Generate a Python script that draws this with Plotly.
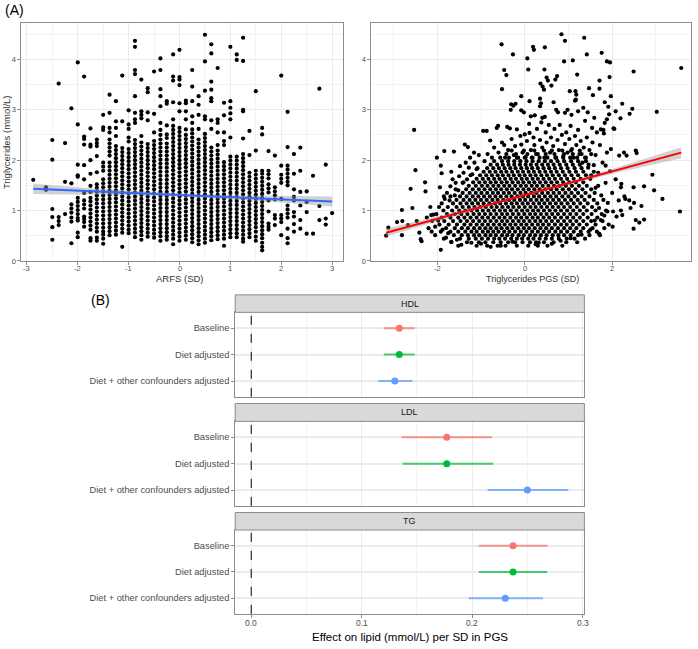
import plotly.graph_objects as go

# ---------------- panel A (left): triglycerides against ARFS ----------------
# ARFS is measured in steps of 0.125 SD, so points stack in columns
arfs_levels = [-2.875, -2.625, -2.5, -2.375, -2.25, -2.125, -2.0, -1.875, -1.75, -1.625,
               -1.5, -1.375, -1.25, -1.125, -1.0, -0.875, -0.75, -0.625, -0.5, -0.375,
               -0.25, -0.125, 0.0, 0.125, 0.25, 0.375, 0.5, 0.625, 0.75, 0.875,
               1.0, 1.125, 1.25, 1.375, 1.5, 1.625, 1.75, 1.875, 2.0, 2.125,
               2.25, 2.375, 2.5, 2.625, 2.75, 2.875, 3.0]
tg_by_arfs = [
    "1.61",
    "1.46 1.41",
    "2.40 2.01 1.03 0.87 0.67 0.42",
    "3.52 0.87 0.79 0.71",
    "2.34 1.57 0.93",
    "3.03 1.54 1.12 1.04 0.96 0.86 0.78 0.35",
    "3.94 2.71 1.91 1.70 1.67 1.25 1.17 1.09 1.01 0.93 0.85 0.80 0.56 0.47",
    "3.66 2.47 2.42 2.31 1.90 1.62 1.35 1.20 1.12 1.04 0.88 0.83 0.77 0.68",
    "2.63 2.31 2.27 2.00 1.73 1.49 1.37 1.25 1.18 1.10 1.02 0.94 0.86 0.78 0.70 0.62 0.45 0.40",
    "2.41 2.34 2.28 2.08 1.76 1.52 1.45 1.38 1.30 1.22 1.14 1.06 0.98 0.90 0.82 0.74 0.66 0.58 0.46 0.40",
    "2.90 2.65 2.60 1.95 1.87 1.79 1.62 1.54 1.46 1.38 1.30 1.22 1.14 1.06 0.98 0.90 0.82 0.74 0.66 0.58 0.52 0.44 0.34",
    "3.30 2.94 2.64 2.55 2.41 2.33 2.25 2.17 2.09 1.95 1.87 1.79 1.71 1.63 1.55 1.47 1.39 1.31 1.23 1.15 1.07 0.99 0.91 0.83 0.75 0.67 0.59 0.51",
    "3.17 2.77 2.64 2.48 2.28 2.20 2.12 2.04 1.96 1.88 1.80 1.72 1.64 1.56 1.48 1.40 1.32 1.24 1.16 1.08 1.00 0.92 0.84 0.76 0.68 0.60 0.52",
    "3.68 2.77 2.24 2.16 2.08 2.00 1.92 1.84 1.76 1.68 1.60 1.52 1.44 1.36 1.28 1.20 1.12 1.04 0.96 0.88 0.80 0.72 0.64 0.56 0.28",
    "2.99 2.71 2.62 2.45 2.37 2.22 2.14 2.06 1.98 1.90 1.82 1.74 1.66 1.58 1.50 1.42 1.34 1.26 1.18 1.10 1.02 0.94 0.86 0.78 0.70 0.62 0.55",
    "4.37 4.25 3.79 3.71 3.27 2.94 2.81 2.74 2.40 2.32 2.24 2.16 2.08 2.00 1.92 1.84 1.76 1.68 1.60 1.52 1.44 1.36 1.28 1.20 1.12 1.04 0.96 0.88 0.80 0.72 0.64 0.56 0.47",
    "3.60 2.97 2.90 2.83 2.48 2.35 2.27 2.19 2.11 2.03 1.95 1.87 1.79 1.71 1.63 1.55 1.47 1.39 1.31 1.23 1.15 1.07 0.99 0.91 0.83 0.75 0.67 0.59 0.51 0.42",
    "3.43 3.35 2.95 2.79 2.32 2.24 2.16 2.08 2.00 1.92 1.84 1.76 1.68 1.60 1.52 1.44 1.36 1.28 1.20 1.12 1.04 0.96 0.88 0.80 0.72 0.64 0.56 0.48",
    "3.76 2.92 2.55 2.38 2.30 2.22 2.14 2.06 1.98 1.90 1.82 1.74 1.66 1.58 1.50 1.42 1.34 1.26 1.18 1.10 1.02 0.94 0.86 0.78 0.70 0.62 0.54 0.46",
    "4.02 3.79 3.41 3.27 3.07 2.74 2.60 2.50 2.41 2.33 2.25 2.17 2.09 2.01 1.93 1.85 1.77 1.69 1.61 1.53 1.45 1.37 1.29 1.21 1.13 1.05 0.97 0.89 0.81 0.73 0.65 0.57 0.49 0.40",
    "3.17 3.12 2.69 2.51 2.44 2.33 2.25 2.17 2.09 2.01 1.93 1.85 1.77 1.69 1.61 1.53 1.45 1.37 1.29 1.21 1.13 1.05 0.97 0.89 0.81 0.73 0.65 0.57 0.49 0.42",
    "4.10 3.66 3.58 3.15 2.81 2.68 2.60 2.52 2.44 2.36 2.28 2.20 2.12 2.04 1.96 1.88 1.80 1.72 1.64 1.56 1.48 1.40 1.32 1.24 1.16 1.08 1.00 0.92 0.84 0.76 0.68 0.60 0.52 0.44 0.33",
    "4.19 3.65 3.60 3.49 3.13 2.97 2.64 2.56 2.48 2.40 2.32 2.24 2.16 2.08 2.00 1.92 1.84 1.76 1.68 1.60 1.52 1.44 1.36 1.28 1.20 1.12 1.04 0.96 0.88 0.80 0.72 0.64 0.56 0.48 0.40",
    "3.18 3.13 2.97 2.81 2.61 2.50 2.42 2.34 2.26 2.18 2.10 2.02 1.94 1.86 1.78 1.70 1.62 1.54 1.46 1.38 1.30 1.22 1.14 1.06 0.98 0.90 0.82 0.74 0.66 0.58 0.50 0.42",
    "3.79 3.46 3.17 2.87 2.74 2.61 2.53 2.45 2.37 2.29 2.21 2.13 2.05 1.97 1.89 1.81 1.73 1.65 1.57 1.49 1.41 1.33 1.25 1.17 1.09 1.01 0.93 0.85 0.77 0.69 0.61 0.53 0.45 0.37",
    "3.27 3.10 2.90 2.62 2.41 2.33 2.25 2.17 2.09 2.01 1.93 1.85 1.77 1.69 1.61 1.53 1.45 1.37 1.29 1.21 1.13 1.05 0.97 0.89 0.81 0.73 0.65 0.57 0.49 0.41 0.33",
    "4.49 3.96 3.38 2.87 2.81 2.52 2.44 2.36 2.28 2.20 2.12 2.04 1.96 1.88 1.80 1.72 1.64 1.56 1.48 1.40 1.32 1.24 1.16 1.08 1.00 0.92 0.84 0.76 0.68 0.60 0.52 0.44 0.36",
    "4.30 4.12 3.56 3.40 3.23 3.17 2.79 2.62 2.25 2.17 2.09 2.01 1.93 1.85 1.77 1.69 1.61 1.53 1.45 1.37 1.29 1.21 1.13 1.05 0.97 0.89 0.81 0.73 0.65 0.57 0.49 0.41",
    "3.83 2.81 2.74 2.55 2.30 2.19 2.11 2.03 1.95 1.87 1.79 1.71 1.63 1.55 1.47 1.39 1.31 1.23 1.15 1.07 0.99 0.91 0.83 0.75 0.67 0.59 0.51 0.43",
    "3.14 2.89 2.55 2.38 2.30 1.96 1.88 1.80 1.72 1.64 1.56 1.48 1.40 1.32 1.24 1.16 1.08 1.00 0.92 0.84 0.76 0.68 0.60 0.52 0.44 0.30",
    "4.25 3.17 3.04 2.93 2.81 2.45 2.07 1.99 1.91 1.83 1.75 1.67 1.59 1.51 1.43 1.35 1.27 1.19 1.11 1.03 0.95 0.87 0.79 0.71 0.63 0.55 0.47",
    "4.10 3.99 2.07 1.99 1.91 1.83 1.75 1.67 1.59 1.51 1.43 1.35 1.27 1.19 1.11 1.03 0.95 0.87 0.79 0.71 0.63 0.55 0.47",
    "4.43 3.97 3.00 2.97 2.43 2.12 2.04 1.96 1.88 1.80 1.72 1.64 1.56 1.48 1.40 1.32 1.24 1.16 1.08 1.00 0.92 0.84 0.76 0.68 0.60 0.52 0.44 0.38",
    "2.58 2.10 1.75 1.67 1.59 1.51 1.43 1.35 1.27 1.19 1.11 1.03 0.95 0.87 0.79 0.71 0.63 0.55 0.47",
    "3.37 2.19 1.79 1.71 1.63 1.55 1.47 1.39 1.31 1.23 1.15 1.07 0.99 0.91 0.83 0.75 0.67 0.58 0.48 0.40",
    "2.64 2.51 1.79 1.73 1.65 1.57 1.49 1.41 1.33 1.25 1.17 1.09 1.01 0.93 0.85 0.77 0.69 0.61 0.53 0.45 0.36 0.28 0.21",
    "2.18 1.79 1.72 1.64 1.52 1.44 1.36 1.20 0.98 0.74 0.68 0.62",
    "2.09 1.46 1.38 1.30 1.22 0.91 0.84 0.71",
    "3.68 1.89 1.71 1.63 1.55 1.23 0.91 0.84 0.77 0.51",
    "2.96 2.26 1.89 1.81 1.73 1.65 1.57 1.50 1.10 1.02 0.94 0.86 0.64 0.45 0.35",
    "2.12 1.73 1.42 1.27 1.20 0.97 0.88 0.73 0.58",
    "2.25 1.79 1.37 1.10 0.81 0.64",
    "1.38 1.17 0.97 0.54",
    "1.69 0.54",
    "3.42 1.09 0.81",
    "1.91 0.84 0.72",
    "0.95",
]
# linear fit and its confidence band
arfs_fit_x = [-2.875, 3.0]
arfs_fit_y = [1.43, 1.18]
arfs_band_x = [-2.875, -2.0, -1.0, 0.0, 0.3, 1.0, 2.0, 3.0]
arfs_band_lo = [1.33, 1.32, 1.305, 1.277, 1.264, 1.224, 1.157, 1.08]
arfs_band_hi = [1.53, 1.46, 1.395, 1.337, 1.324, 1.304, 1.287, 1.28]

# ---------------- panel A (right): triglycerides against TG PGS ----------------
# dense middle of the cloud, one string of PGS values per TG row
pgs_core_tg = [0.30, 0.37, 0.44, 0.51, 0.58, 0.65, 0.72, 0.79, 0.86, 0.93,
               1.00, 1.07, 1.14, 1.21, 1.28, 1.35, 1.42, 1.49, 1.56, 1.63,
               1.70, 1.77, 1.84, 1.91, 1.98, 2.05, 2.12, 2.19]
pgs_core = [
    "-1.52 -1.10 -0.86 -0.62 -0.44 -0.18 0.08 0.30 0.52 0.86",
    "-1.68 -1.32 -1.05 -0.90 -0.72 -0.55 -0.38 -0.22 -0.05 0.12 0.26 0.44 0.66 0.95 1.20",
    "-1.85 -1.48 -1.28 -1.12 -0.98 -0.84 -0.70 -0.58 -0.45 -0.31 -0.18 -0.06 0.08 0.20 0.34 0.48 0.62 0.78 0.96 1.14 1.38",
    "-2.05 -1.62 -1.44 -1.30 -1.16 -1.04 -0.90 -0.78 -0.66 -0.52 -0.40 -0.28 -0.14 -0.02 0.12 0.24 0.37 0.50 0.64 0.77 0.90 1.05 1.22 1.48 1.72",
    "-1.92 -1.70 -1.52 -1.36 -1.22 -1.10 -0.96 -0.84 -0.72 -0.60 -0.47 -0.35 -0.22 -0.09 0.04 0.17 0.30 0.43 0.56 0.70 0.83 0.97 1.12 1.28 1.46 1.65",
    "-2.20 -1.80 -1.60 -1.44 -1.30 -1.16 -1.03 -0.90 -0.78 -0.65 -0.53 -0.40 -0.28 -0.15 -0.02 0.10 0.23 0.36 0.49 0.62 0.76 0.90 1.04 1.18 1.34 1.55 1.82",
    "-1.95 -1.74 -1.55 -1.38 -1.24 -1.10 -0.97 -0.84 -0.71 -0.58 -0.46 -0.33 -0.21 -0.08 0.04 0.17 0.30 0.42 0.55 0.69 0.83 0.96 1.10 1.25 1.42 1.62",
    "-2.12 -1.84 -1.64 -1.47 -1.32 -1.18 -1.04 -0.91 -0.78 -0.65 -0.52 -0.40 -0.27 -0.14 -0.02 0.11 0.24 0.36 0.49 0.62 0.76 0.90 1.04 1.18 1.34 1.52 1.78",
    "-1.90 -1.70 -1.52 -1.38 -1.24 -1.10 -0.97 -0.84 -0.71 -0.58 -0.46 -0.33 -0.20 -0.08 0.05 0.18 0.30 0.43 0.56 0.69 0.83 0.97 1.11 1.26 1.44 1.66",
    "-2.02 -1.78 -1.60 -1.45 -1.31 -1.17 -1.04 -0.91 -0.78 -0.65 -0.52 -0.40 -0.27 -0.14 -0.01 0.12 0.24 0.37 0.50 0.63 0.76 0.90 1.04 1.18 1.34 1.53 1.76",
    "-1.86 -1.66 -1.50 -1.36 -1.22 -1.09 -0.96 -0.83 -0.70 -0.57 -0.45 -0.32 -0.19 -0.06 0.06 0.19 0.31 0.44 0.57 0.70 0.83 0.97 1.11 1.26 1.42 1.62 1.86",
    "-1.76 -1.56 -1.42 -1.28 -1.15 -1.02 -0.89 -0.76 -0.64 -0.51 -0.38 -0.26 -0.13 0.00 0.13 0.25 0.38 0.51 0.64 0.77 0.90 1.04 1.19 1.35 1.54",
    "-1.90 -1.64 -1.47 -1.33 -1.20 -1.07 -0.94 -0.81 -0.68 -0.56 -0.43 -0.30 -0.18 -0.05 0.07 0.20 0.33 0.45 0.58 0.71 0.84 0.98 1.12 1.27 1.44 1.66",
    "-1.56 -1.40 -1.26 -1.13 -1.00 -0.87 -0.74 -0.62 -0.49 -0.36 -0.24 -0.11 0.01 0.14 0.27 0.39 0.52 0.65 0.78 0.92 1.06 1.21 1.37 1.58 1.80",
    "-1.70 -1.48 -1.33 -1.19 -1.06 -0.93 -0.80 -0.67 -0.55 -0.42 -0.30 -0.17 -0.04 0.08 0.21 0.33 0.46 0.59 0.72 0.86 1.00 1.14 1.30 1.48",
    "-1.42 -1.26 -1.12 -0.99 -0.86 -0.73 -0.61 -0.48 -0.36 -0.23 -0.10 0.02 0.15 0.27 0.40 0.53 0.66 0.79 0.93 1.07 1.22 1.39 1.60",
    "-1.58 -1.34 -1.19 -1.05 -0.92 -0.79 -0.66 -0.54 -0.41 -0.29 -0.16 -0.03 0.09 0.22 0.34 0.47 0.60 0.73 0.87 1.01 1.16 1.32 1.52",
    "-1.28 -1.12 -0.98 -0.85 -0.72 -0.60 -0.47 -0.35 -0.22 -0.09 0.03 0.16 0.28 0.41 0.54 0.67 0.80 0.94 1.08 1.24 1.42 1.68",
    "-1.40 -1.18 -1.04 -0.91 -0.78 -0.66 -0.53 -0.41 -0.28 -0.15 -0.03 0.10 0.22 0.35 0.48 0.61 0.74 0.88 1.02 1.17 1.34",
    "-1.10 -0.96 -0.83 -0.70 -0.58 -0.45 -0.32 -0.20 -0.07 0.05 0.18 0.30 0.43 0.56 0.69 0.83 0.97 1.12 1.28 1.50",
    "-1.24 -1.02 -0.88 -0.75 -0.62 -0.50 -0.37 -0.25 -0.12 0.00 0.13 0.25 0.38 0.51 0.64 0.78 0.92 1.07 1.22 1.40",
    "-0.94 -0.80 -0.67 -0.54 -0.42 -0.29 -0.16 -0.04 0.09 0.21 0.34 0.47 0.60 0.73 0.87 1.02 1.17 1.34 1.58",
    "-1.08 -0.86 -0.72 -0.59 -0.46 -0.33 -0.21 -0.08 0.05 0.17 0.30 0.43 0.56 0.69 0.83 0.98 1.14 1.30",
    "-0.78 -0.63 -0.50 -0.37 -0.24 -0.11 0.02 0.14 0.27 0.40 0.53 0.66 0.80 0.95 1.10 1.26 1.46",
    "-0.70 -0.52 -0.38 -0.24 -0.10 0.04 0.18 0.32 0.46 0.60 0.75 0.90 1.06 1.22 1.40",
    "-0.56 -0.36 -0.18 0.00 0.16 0.34 0.52 0.70 0.88 1.04 1.20 1.38",
    "-0.42 -0.20 0.06 0.26 0.48 0.68 0.90 1.10 1.30 1.52",
    "-0.30 -0.02 0.22 0.44 0.62 0.86 1.06 1.26",
]
# scattered points around the core (PGS, TG)
pgs_outer = [
    (0.84, 4.50), (1.36, 4.43), (-0.53, 4.30), (0.92, 4.37), (-0.27, 4.10), (0.19, 4.25), (0.21, 4.19),
    (0.46, 4.24), (1.42, 4.10), (1.76, 4.13), (1.88, 3.96), (1.95, 3.94), (0.06, 4.02), (1.10, 3.98),
    (0.90, 3.96), (-0.47, 3.79), (-0.42, 3.69), (0.08, 3.80), (0.45, 3.80), (2.49, 3.76), (3.58, 3.83),
    (-0.52, 3.41), (0.36, 3.52), (0.41, 3.46), (0.44, 3.40), (0.50, 3.64), (0.53, 3.58), (0.61, 3.48),
    (0.74, 3.67), (0.70, 3.60), (1.20, 3.70), (1.03, 3.37), (1.16, 3.37), (1.18, 3.30), (1.47, 3.43),
    (1.56, 3.29), (1.71, 3.58), (1.71, 3.42), (1.94, 3.65), (1.97, 3.27), (1.83, 3.15), (1.91, 3.06),
    (2.23, 3.12), (2.46, 3.02), (2.40, 2.92), (2.08, 2.97), (1.93, 2.91), (1.88, 2.81), (1.83, 2.74),
    (2.19, 2.83), (3.02, 2.96), (2.03, 2.63), (1.74, 2.61), (1.81, 2.53), (1.54, 2.64),
    (-0.08, 3.27), (-0.31, 3.11), (-0.26, 3.08), (-0.21, 3.12), (-0.32, 3.00), (-0.08, 2.99),
    (-0.02, 2.95), (0.11, 3.17), (0.35, 3.22), (0.37, 3.13), (0.35, 3.07), (0.23, 2.89), (0.14, 2.87),
    (0.40, 2.84), (0.46, 2.86), (0.66, 3.15), (0.72, 3.00), (0.76, 2.95), (0.92, 2.94), (0.98, 3.00),
    (1.07, 2.90), (1.15, 3.18), (1.17, 3.20), (1.22, 2.97), (1.34, 3.04), (1.44, 2.95), (1.59, 2.84),
    (0.11, 2.54),
    # left wing
    (-3.17, 0.50), (-3.12, 0.66), (-2.92, 0.77), (-2.81, 1.01), (-2.81, 0.51), (-2.80, 0.79),
    (-2.67, 0.71), (-2.61, 1.43), (-2.57, 1.05), (-2.53, 2.60), (-2.50, 1.80), (-2.47, 0.79),
    (-2.41, 0.56), (-2.38, 0.43), (-2.36, 0.39), (-2.28, 1.56), (-2.27, 1.38), (-2.24, 0.86),
    (-2.16, 1.07), (-2.14, 0.91), (-2.13, 0.58), (-2.09, 0.92), (-2.05, 0.68), (-2.01, 2.05),
    (-1.98, 0.80), (-1.96, 1.07), (-1.94, 1.46), (-1.92, 1.89), (-1.92, 0.22), (-1.90, 1.74),
    (-1.88, 0.62), (-1.85, 1.28), (-1.84, 2.18), (-1.83, 1.23), (-1.80, 0.46), (-1.78, 1.35),
    (-1.75, 0.55), (-1.72, 1.20), (-1.70, 1.48), (-1.68, 1.77), (-1.68, 0.38), (-1.65, 1.62),
    (-1.62, 2.17), (-1.60, 1.30), (-1.58, 1.55), (-1.55, 0.42), (-1.52, 1.40), (-1.50, 1.68),
    (-1.48, 1.88), (-1.45, 0.32), (-1.42, 1.55), (-1.40, 1.75), (-1.37, 2.31), (-1.35, 1.95),
    (-1.32, 1.62), (-1.30, 2.26), (-1.28, 1.85), (-1.25, 2.05), (-1.22, 0.36), (-1.20, 1.72),
    (-1.16, 2.15), (-1.15, 1.95), (-1.10, 1.82), (-1.05, 2.10), (-1.00, 0.34),
    # upper band
    (-0.95, 2.58), (-0.92, 1.98), (-0.87, 2.58), (-0.85, 2.12), (-0.79, 2.39), (-0.78, 0.28),
    (-0.75, 2.05), (-0.70, 2.25), (-0.64, 2.64), (-0.61, 2.68), (-0.60, 2.15), (-0.55, 0.30),
    (-0.52, 2.35), (-0.47, 2.30), (-0.45, 2.05), (-0.40, 2.66), (-0.38, 2.20), (-0.34, 2.63),
    (-0.30, 2.42), (-0.28, 0.38), (-0.25, 2.10), (-0.22, 2.28), (-0.18, 2.61), (-0.15, 2.05),
    (-0.10, 2.48), (-0.08, 2.31), (-0.05, 2.15), (0.00, 2.51), (0.02, 2.06), (0.05, 2.38),
    (0.10, 2.72), (0.14, 2.20), (0.18, 2.05), (0.20, 2.45), (0.22, 2.30), (0.25, 0.33),
    (0.28, 2.62), (0.30, 2.12), (0.32, 0.36), (0.35, 2.40), (0.38, 2.75), (0.40, 2.25),
    (0.45, 2.05), (0.48, 2.55), (0.50, 2.35), (0.55, 2.70), (0.58, 2.15), (0.60, 2.45),
    (0.62, 0.34), (0.65, 2.28), (0.68, 2.62), (0.72, 2.05), (0.75, 2.40), (0.78, 2.20),
    (0.80, 2.70), (0.82, 0.40), (0.85, 2.50), (0.88, 2.08), (0.92, 2.32), (0.95, 2.55),
    (0.98, 2.15), (1.02, 2.42), (1.05, 0.45), (1.05, 2.68), (1.08, 2.22), (1.12, 2.05),
    (1.15, 2.48), (1.18, 2.30), (1.22, 2.60), (1.25, 2.12), (1.28, 2.38), (1.30, 0.52),
    (1.32, 1.95), (1.35, 2.25), (1.38, 2.78), (1.40, 2.05), (1.42, 2.45), (1.45, 1.85),
    (1.48, 2.20), (1.50, 0.62), (1.52, 1.70), (1.55, 2.35), (1.58, 1.90), (1.60, 0.80),
    # right wing
    (1.62, 2.10), (1.62, 1.45), (1.65, 2.55), (1.68, 1.75), (1.70, 1.05), (1.70, 0.54),
    (1.72, 2.30), (1.74, 0.81), (1.75, 1.30), (1.78, 1.95), (1.80, 2.60), (1.82, 0.90),
    (1.85, 1.55), (1.85, 1.89), (1.88, 2.15), (1.89, 0.98), (1.90, 1.15), (1.92, 0.72),
    (1.95, 1.78), (1.97, 2.22), (2.00, 1.35), (2.01, 0.68), (2.02, 0.98), (2.05, 2.62),
    (2.08, 1.62), (2.10, 0.88), (2.16, 2.09), (2.15, 1.20), (2.20, 1.46), (2.20, 1.00),
    (2.21, 1.53), (2.23, 0.91), (2.27, 2.15), (2.28, 1.28), (2.30, 1.23), (2.33, 2.09),
    (2.39, 1.20), (2.42, 1.05), (2.49, 1.46), (2.49, 0.64), (2.50, 1.15), (2.54, 2.19),
    (2.54, 0.81), (2.56, 2.14), (2.62, 0.76), (2.67, 1.09), (2.73, 1.48), (2.73, 0.82),
    (2.92, 1.71), (2.96, 1.40), (3.15, 1.23), (3.55, 0.98),
]
pgs_fit_x = [-3.17, 3.58]
pgs_fit_y = [0.56, 2.15]
pgs_band_x = [-3.17, -2.0, -1.0, 0.0, 0.3, 1.0, 2.0, 3.58]
pgs_band_lo = [0.48, 0.785, 1.04, 1.283, 1.354, 1.51, 1.725, 2.036]
pgs_band_hi = [0.64, 0.885, 1.10, 1.327, 1.398, 1.57, 1.825, 2.256]

# ---------------- panel B: effect per SD in PGS ----------------
models = ["Baseline", "Diet adjusted", "Diet + other confounders adjusted"]
model_colors = ["#F8766D", "#00BA38", "#619CFF"]
model_lines = ["rgba(248,118,109,0.75)", "rgba(0,186,56,0.7)", "rgba(97,156,255,0.75)"]
lipids = ["HDL", "LDL", "TG"]
effect = {"HDL": [0.134, 0.134, 0.130], "LDL": [0.177, 0.177, 0.250], "TG": [0.237, 0.237, 0.230]}
ci_low = {"HDL": [0.120, 0.120, 0.115], "LDL": [0.136, 0.137, 0.214], "TG": [0.206, 0.206, 0.197]}
ci_high = {"HDL": [0.148, 0.148, 0.146], "LDL": [0.218, 0.219, 0.287], "TG": [0.268, 0.268, 0.264]}

arfs_ticks = [-3, -2, -1, 0, 1, 2, 3]
pgs_ticks = [-2, 0, 2]
effect_ticks = [0.0, 0.1, 0.2, 0.3]

FONT = "Liberation Sans, Arial, sans-serif"
TICK = "#4D4D4D"
GRID = "#EBEBEB"
FRAME = "#8C8C8C"
W, H = 698, 649

fig = go.Figure()

# unpack scatter data
arfs_x, arfs_tg = [], []
for lev, vals in zip(arfs_levels, tg_by_arfs):
    for v in vals.split():
        arfs_x.append(lev)
        arfs_tg.append(float(v))

pgs_x, pgs_tg = [], []
for row_tg, row in zip(pgs_core_tg, pgs_core):
    for v in row.split():
        pgs_x.append(float(v))
        pgs_tg.append(row_tg)
for px_, py_ in pgs_outer:
    pgs_x.append(px_)
    pgs_tg.append(py_)


def add_scatter_panel(x, y, bx, blo, bhi, fx, fy, line_col, xa, ya):
    fig.add_trace(go.Scatter(x=x, y=y, mode="markers", xaxis=xa, yaxis=ya,
                             marker=dict(color="black", size=4.2), showlegend=False))
    fig.add_trace(go.Scatter(x=bx, y=bhi, mode="lines", line=dict(width=0),
                             xaxis=xa, yaxis=ya, showlegend=False))
    fig.add_trace(go.Scatter(x=bx, y=blo, mode="lines", line=dict(width=0, shape="spline"),
                             fill="tonexty", fillcolor="rgba(153,153,153,0.45)",
                             xaxis=xa, yaxis=ya, showlegend=False))
    fig.add_trace(go.Scatter(x=fx, y=fy, mode="lines", line=dict(color=line_col, width=2),
                             xaxis=xa, yaxis=ya, showlegend=False))


add_scatter_panel(arfs_x, arfs_tg, arfs_band_x, arfs_band_lo, arfs_band_hi,
                  arfs_fit_x, arfs_fit_y, "#3366FF", "x", "y")
add_scatter_panel(pgs_x, pgs_tg, pgs_band_x, pgs_band_lo, pgs_band_hi,
                  pgs_fit_x, pgs_fit_y, "#FF0000", "x2", "y2")

# forest facets
for i, lip in enumerate(lipids):
    xa, ya = f"x{i + 3}", f"y{i + 3}"
    for m, mod in enumerate(models):
        est = effect[lip][m]
        fig.add_trace(go.Scatter(
            x=[est], y=[mod], mode="markers", xaxis=xa, yaxis=ya,
            marker=dict(color=model_colors[m], size=7),
            error_x=dict(type="data", symmetric=False,
                         array=[ci_high[lip][m] - est], arrayminus=[est - ci_low[lip][m]],
                         color=model_lines[m], thickness=2, width=0),
            showlegend=False))

scatter_y = [1 - 263 / H, 1 - 23.3 / H]
ax_common = dict(showline=True, mirror=True, linecolor=FRAME, linewidth=1,
                 ticks="outside", ticklen=3, tickcolor=FRAME,
                 tickfont=dict(family=FONT, size=7.5, color=TICK),
                 showgrid=True, gridcolor=GRID, gridwidth=1, zeroline=False)
minor_y = dict(tickvals=[0.5, 1.5, 2.5, 3.5, 4.5], showgrid=True, gridcolor="#F3F3F3", gridwidth=0.6)

layout = dict(
    width=W, height=H, margin=dict(l=0, r=0, t=0, b=0),
    plot_bgcolor="white", paper_bgcolor="white",
    font=dict(family=FONT, color="#333333"),
    xaxis=dict(domain=[21.3 / W, 343.3 / W], anchor="y", range=[-3.11, 3.22],
               tickvals=arfs_ticks, showticklabels=False,
               minor=dict(tickvals=[-2.5, -1.5, -0.5, 0.5, 1.5, 2.5], showgrid=True,
                          gridcolor="#F3F3F3", gridwidth=0.6), **ax_common),
    yaxis=dict(domain=scatter_y, anchor="x", range=[-0.01, 4.72],
               tickvals=[0, 1, 2, 3, 4], minor=minor_y, **ax_common),
    xaxis2=dict(domain=[371.3 / W, 691.3 / W], anchor="y2", range=[-3.51, 3.81],
                tickvals=pgs_ticks, showticklabels=False,
                minor=dict(tickvals=[-3, -1, 1, 3], showgrid=True,
                           gridcolor="#F3F3F3", gridwidth=0.6), **ax_common),
    yaxis2=dict(domain=scatter_y, anchor="x2", range=[-0.01, 4.72],
                tickvals=[0, 1, 2, 3, 4], minor=minor_y, **ax_common),
)

forest_x = [235.2 / W, 584.4 / W]
facet_px = [(314.3, 399.3), (424.0, 509.0), (533.3, 617.7)]
strip_px = [(296.7, 314.3), (406.0, 424.0), (515.7, 533.3)]
shapes, annotations = [], []
for i, lip in enumerate(lipids):
    top, bot = facet_px[i]
    last = i == len(lipids) - 1
    layout[f"xaxis{i + 3}"] = dict(
        domain=forest_x, anchor=f"y{i + 3}", range=[-0.0145, 0.3016],
        tickvals=effect_ticks, showticklabels=False,
        ticks="outside" if last else "", ticklen=3, tickcolor=FRAME,
        minor=dict(tickvals=[0.05, 0.15, 0.25], showgrid=True, gridcolor="#F3F3F3", gridwidth=0.6),
        showline=True, mirror=True, linecolor=FRAME, linewidth=1,
        showgrid=True, gridcolor=GRID, zeroline=False)
    layout[f"yaxis{i + 3}"] = dict(
        domain=[1 - bot / H, 1 - top / H], anchor=f"x{i + 3}",
        type="category", categoryarray=models[::-1], range=[-0.6, 2.6],
        ticks="outside", ticklen=3, tickcolor=FRAME,
        tickfont=dict(family=FONT, size=9.3, color=TICK),
        showline=True, mirror=True, linecolor=FRAME, linewidth=1,
        showgrid=True, gridcolor=GRID, gridwidth=1.5, zeroline=False)
    # reference line at zero
    shapes.append(dict(type="line", xref=f"x{i + 3}", yref=f"y{i + 3} domain",
                       x0=0, x1=0, y0=0, y1=1, line=dict(color="black", width=1, dash="dash")))
    # facet strip
    s_top, s_bot = strip_px[i]
    shapes.append(dict(type="rect", xref="paper", yref="paper",
                       x0=forest_x[0], x1=forest_x[1], y0=1 - s_bot / H, y1=1 - s_top / H,
                       fillcolor="#D9D9D9", line=dict(color=FRAME, width=1), layer="above"))
    annotations.append(dict(text=lip, x=sum(forest_x) / 2, y=1 - (s_top + s_bot) / 2 / H,
                            xref="paper", yref="paper",
                            font=dict(family=FONT, size=9, color="#1A1A1A")))

# x tick labels placed just under each axis
for t in arfs_ticks:
    annotations.append(dict(text=f"{t}", x=t, xref="x", y=1 - 270 / H, yref="paper",
                            font=dict(family=FONT, size=7.5, color=TICK)))
for t in pgs_ticks:
    annotations.append(dict(text=f"{t}", x=t, xref="x2", y=1 - 270 / H, yref="paper",
                            font=dict(family=FONT, size=7.5, color=TICK)))
for t in effect_ticks:
    annotations.append(dict(text=f"{t:.1f}", x=t, xref="x5", y=1 - 626.5 / H, yref="paper",
                            font=dict(family=FONT, size=8.5, color=TICK)))

# titles and panel letters
annotations += [
    dict(text="(A)", x=3 / W, y=1 - 10 / H, xanchor="left", font=dict(size=14, color="black")),
    dict(text="(B)", x=89 / W, y=1 - 302 / H, xanchor="left", font=dict(size=14, color="black")),
    dict(text="ARFS (SD)", x=180 / W, y=1 - 280.5 / H, font=dict(size=9.5)),
    dict(text="Triglycerides PGS (SD)", x=532 / W, y=1 - 280.5 / H, font=dict(size=9)),
    dict(text="Triglycerides (mmol/L)", x=6 / W, y=1 - 143 / H, textangle=-90, font=dict(size=9.5)),
    dict(text="Effect on lipid (mmol/L) per SD in PGS", x=410 / W, y=1 - 641 / H,
         font=dict(size=11.5, color="black")),
]
for a in annotations:
    a.update(showarrow=False, yanchor="middle")
    a.setdefault("xref", "paper")
    a.setdefault("yref", "paper")
    a.setdefault("xanchor", "center")
    a["font"].setdefault("family", FONT)
    a["font"].setdefault("color", "#333333")

layout["shapes"] = shapes
layout["annotations"] = annotations
fig.update_layout(**layout)

# the page's default body margin would shift the figure by 8px
fig.write_html("out.html", config={"displayModeBar": False},
               post_script="document.body.style.margin='0';")
